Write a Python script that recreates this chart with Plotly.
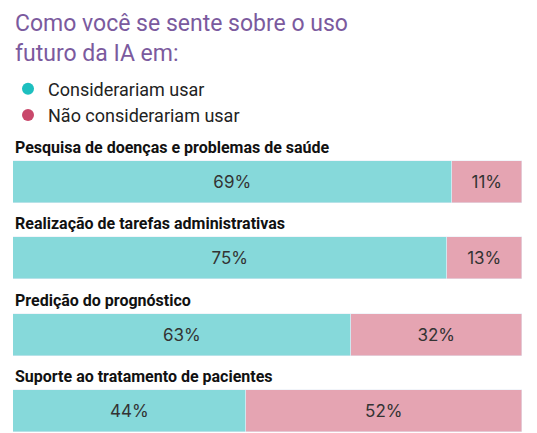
import plotly.graph_objects as go

categorias = ["Pesquisa de doenças e problemas de saúde",
              "Realização de tarefas administrativas",
              "Predição do prognóstico",
              "Suporte ao tratamento de pacientes"]
usar = [69, 75, 63, 44]
nao_usar = [11, 13, 32, 52]

total = [a + b for a, b in zip(usar, nao_usar)]
frac_usar = [a / t for a, t in zip(usar, total)]
frac_nao = [b / t for b, t in zip(nao_usar, total)]
ys = list(range(len(categorias)))

fig = go.Figure()
fig.add_bar(y=ys, x=frac_usar, orientation="h", marker_color="#86D9DA", width=0.55,
            text=[f"{v}%" for v in usar], textposition="inside", insidetextanchor="middle",
            textfont=dict(size=17, color="#333333", family="Inter"), showlegend=False)
fig.add_bar(y=ys, x=frac_nao, orientation="h", marker_color="#E5A4B2", width=0.55,
            text=[f"{v}%" for v in nao_usar], textposition="inside", insidetextanchor="middle",
            textfont=dict(size=17, color="#333333", family="Inter"), showlegend=False)

# legend entries as circles
fig.add_scatter(x=[None], y=[None], mode="markers", name="Considerariam usar",
                marker=dict(color="#1DBFBF", size=16, symbol="circle"))
fig.add_scatter(x=[None], y=[None], mode="markers", name="Não considerariam usar",
                marker=dict(color="#C9486B", size=16, symbol="circle"))

for i, c in enumerate(categorias):
    fig.add_annotation(x=0, y=i - 0.45, xref="x", yref="y", text=f"<b>{c}</b>",
                       showarrow=False, xanchor="left", yanchor="middle",
                       font=dict(size=16, color="#111111", family="Roboto"))

fig.add_annotation(x=0.0, y=1.0, xref="paper", yref="paper",
                   text="Como você se sente sobre o uso<br>futuro da IA em:",
                   showarrow=False, xanchor="left", yanchor="top", align="left",
                   font=dict(size=23, color="#7B5A9E", family="Roboto"))

fig.update_layout(
    width=537, height=433, barmode="stack", bargap=0,
    margin=dict(l=4, r=23, t=0, b=0),
    plot_bgcolor="white", paper_bgcolor="white",
    xaxis=dict(range=[0, 1], visible=False),
    yaxis=dict(range=[3.395, -2.28], visible=False),
    legend=dict(orientation="h", x=-0.01, y=1 - 94 / 433, xanchor="left", yanchor="middle",
                traceorder="normal",
                font=dict(size=18, color="#222222", family="Roboto"),
                itemsizing="constant", bgcolor="rgba(0,0,0,0)"),
)

fig.write_html("out.html")
